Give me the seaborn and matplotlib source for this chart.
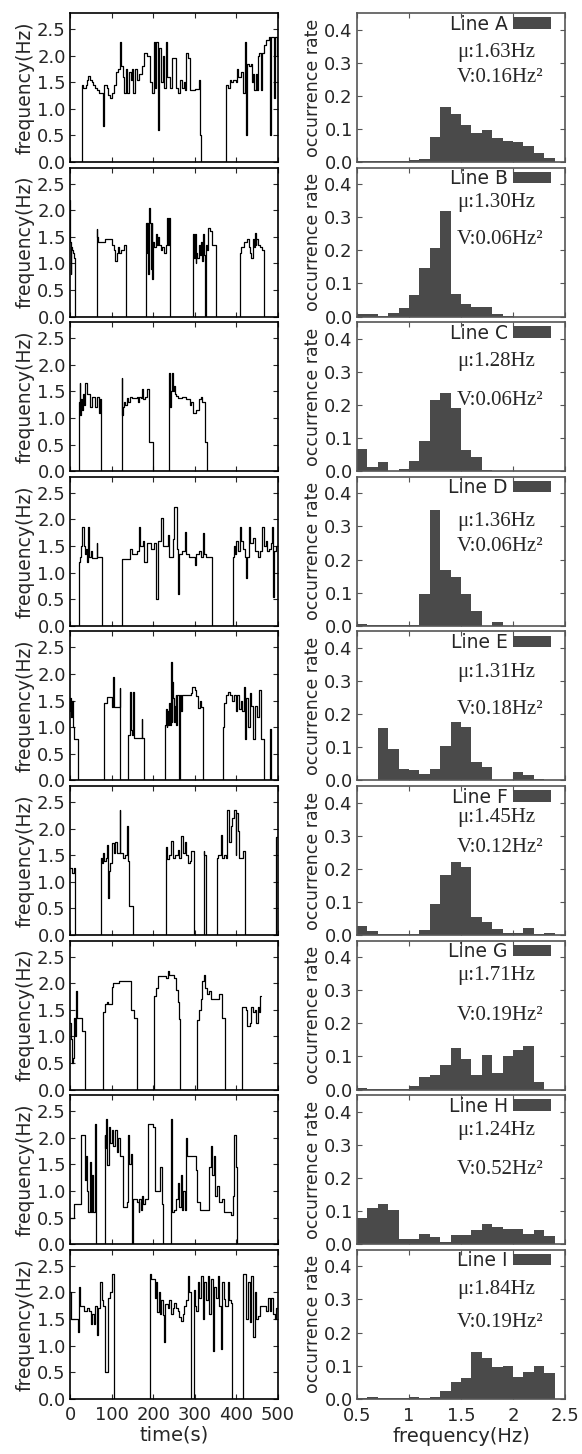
import numpy as np
import pandas as pd
import matplotlib
matplotlib.use("Agg")
import matplotlib.pyplot as plt
from matplotlib.patches import Patch
import seaborn as sns

# --------------------------------------------
# 1. DATA
# --------------------------------------------
line_names = ["Line A", "Line B", "Line C", "Line D", "Line E",
              "Line F", "Line G", "Line H", "Line I"]
mu_hz = [1.63, 1.30, 1.28, 1.36, 1.31, 1.45, 1.71, 1.24, 1.84]
var_hz2 = [0.16, 0.06, 0.06, 0.06, 0.18, 0.12, 0.19, 0.52, 0.19]

# (time s, frequency Hz) step breakpoints
line_a = [(0, 0), (28, 1.45), (32, 1.4), (38, 1.45), (40, 1.55), (44, 1.62), (48, 1.55), (52, 1.5),
          (56, 1.45), (60, 1.4), (64, 1.35), (70, 1.3), (79, 0.68), (81, 1.45), (88, 1.4), (92, 1.25),
          (95, 1.2), (100, 1.3), (105, 1.45), (110, 1.7), (115, 1.75), (120, 2.25), (122, 1.8),
          (127, 1.6), (130, 1.3), (134, 1.75), (137, 1.3), (142, 1.7), (146, 1.55), (150, 1.75),
          (152, 1.3), (156, 1.75), (160, 1.55), (165, 1.65), (172, 1.8), (179, 2.05), (186, 2.0),
          (193, 1.5), (197, 1.3), (201, 2.25), (204, 1.4), (207, 2.25), (211, 0.6), (214, 2.15),
          (219, 1.5), (223, 2.0), (227, 1.4), (231, 2.25), (234, 1.6), (240, 1.4), (246, 1.95),
          (256, 1.4), (260, 1.3), (265, 1.55), (270, 1.4), (273, 1.5), (276, 1.35), (280, 2.05),
          (284, 1.95), (288, 1.35), (300, 1.38), (310, 1.55), (312, 0.5), (316, 0), (376, 1.45),
          (380, 1.4), (384, 1.55), (388, 1.5), (393, 1.55), (398, 1.5), (401, 1.75), (405, 1.6),
          (410, 1.7), (416, 1.3), (420, 2.25), (423, 0.5), (426, 1.85), (430, 1.8), (434, 1.85),
          (437, 1.5), (440, 1.65), (443, 1.35), (446, 1.65), (449, 1.35), (452, 2.0), (455, 2.05),
          (458, 1.35), (461, 2.05), (466, 2.2), (472, 2.3), (478, 2.35), (481, 0.5), (484, 2.35),
          (490, 1.2), (493, 2.35), (497, 2.0), (500, 2.0)]
line_b = [(0, 2.2), (1, 1.4), (2, 0.8), (3, 1.3), (5, 1.25), (7, 1.2), (9, 1.1), (11, 0), (65, 1.65),
          (66, 1.5), (68, 1.4), (75, 1.4), (85, 1.45), (100, 1.35), (105, 1.25), (108, 1.05),
          (112, 1.2), (115, 1.3), (118, 1.2), (122, 1.25), (130, 1.35), (134, 0), (182, 0.8),
          (183, 1.75), (184, 1.2), (186, 1.75), (188, 0.8), (189, 2.05), (192, 1.75), (194, 0.9),
          (196, 1.75), (198, 0.7), (200, 1.4), (203, 1.3), (206, 1.55), (209, 1.35), (212, 1.5),
          (215, 1.35), (218, 1.25), (222, 1.3), (226, 1.2), (230, 1.35), (234, 1.85), (236, 1.35),
          (238, 1.85), (241, 0), (296, 1.55), (298, 1.1), (300, 1.55), (302, 1.0), (304, 1.2),
          (306, 1.1), (309, 1.35), (312, 1.15), (315, 1.4), (317, 1.05), (319, 1.55), (322, 1.15),
          (324, 0), (326, 1.35), (329, 1.25), (332, 1.67), (337, 1.6), (342, 1.35), (350, 0),
          (409, 1.2), (412, 1.3), (418, 1.4), (426, 1.45), (430, 1.3), (433, 1.2), (436, 1.1),
          (439, 1.45), (442, 1.3), (444, 1.57), (446, 1.35), (448, 1.45), (451, 1.35), (456, 1.3),
          (461, 1.25), (466, 0), (500, 0)]
line_c = [(0, 0), (21, 0.7), (22, 1.3), (23, 1.65), (25, 1.05), (27, 1.35), (29, 1.15), (31, 1.45),
          (34, 1.25), (37, 1.65), (40, 1.45), (44, 1.45), (48, 1.2), (52, 1.4), (56, 1.4), (60, 1.2),
          (64, 1.4), (68, 1.4), (70, 1.1), (72, 1.35), (75, 0), (124, 1.75), (126, 1.05), (128, 1.2),
          (130, 1.3), (133, 1.25), (136, 1.38), (140, 1.3), (144, 1.4), (150, 1.38), (160, 1.4),
          (163, 1.3), (166, 1.4), (170, 1.38), (174, 1.55), (176, 1.35), (180, 1.4), (186, 1.55),
          (189, 0.55), (200, 0), (238, 0.7), (239, 1.84), (240, 1.2), (242, 1.5), (244, 1.85),
          (247, 1.5), (250, 1.6), (253, 1.45), (256, 1.42), (260, 1.38), (270, 1.4), (280, 1.35),
          (288, 1.25), (292, 1.3), (296, 1.1), (302, 1.15), (310, 1.35), (315, 1.4), (318, 1.3),
          (325, 0.55), (330, 0), (500, 0)]
line_d = [(0, 0), (22, 1.2), (24, 1.3), (26, 1.5), (28, 1.6), (30, 1.85), (33, 1.5), (36, 1.35),
          (39, 1.45), (41, 1.2), (43, 1.85), (46, 1.3), (50, 1.4), (54, 1.28), (64, 1.55), (66, 1.3),
          (78, 0), (124, 1.25), (140, 1.25), (145, 1.45), (150, 1.35), (160, 1.4), (165, 1.85),
          (169, 1.5), (175, 1.6), (179, 1.2), (185, 1.55), (195, 1.45), (201, 1.55), (207, 0.5),
          (211, 1.6), (219, 2.03), (223, 1.5), (231, 1.5), (235, 1.7), (239, 1.3), (247, 1.64),
          (251, 2.24), (257, 1.45), (259, 0.6), (262, 1.35), (270, 1.4), (276, 1.76), (280, 1.35),
          (285, 1.3), (295, 1.3), (300, 1.15), (304, 1.35), (310, 1.4), (314, 1.3), (320, 1.75),
          (322, 1.35), (327, 1.3), (342, 0), (393, 1.3), (395, 1.5), (397, 1.35), (400, 1.6),
          (404, 1.4), (408, 1.85), (412, 1.6), (416, 1.45), (420, 1.3), (424, 0.9), (426, 1.3),
          (430, 1.85), (432, 1.55), (440, 1.65), (444, 1.4), (452, 1.3), (456, 1.4), (462, 1.85),
          (466, 1.5), (470, 1.6), (474, 1.4), (478, 1.45), (482, 1.55), (486, 1.85), (488, 0.55),
          (490, 1.4), (495, 1.5), (500, 1.45)]
line_e = [(0, 1.3), (1, 1.55), (3, 1.2), (5, 1.5), (7, 1.0), (9, 0.78), (14, 0.78), (20, 0),
          (81, 1.45), (88, 1.57), (100, 1.38), (104, 1.95), (106, 1.38), (118, 1.38), (119, 1.74),
          (120, 0), (139, 0.85), (145, 1.67), (146, 0.95), (148, 0.85), (152, 1.67), (154, 0.8),
          (172, 1.15), (174, 0.8), (177, 0), (228, 1.05), (230, 1.35), (232, 1.0), (234, 1.3),
          (236, 1.05), (238, 1.46), (240, 1.05), (242, 2.22), (244, 1.1), (246, 1.84), (248, 1.55),
          (250, 1.1), (252, 1.4), (254, 1.6), (256, 1.05), (258, 1.6), (263, 0), (265, 1.6),
          (268, 1.3), (270, 1.6), (290, 1.65), (294, 1.76), (300, 1.7), (304, 1.58), (308, 1.36),
          (312, 1.5), (315, 1.38), (319, 0), (368, 1.0), (371, 1.46), (376, 1.6), (380, 1.67),
          (385, 1.6), (390, 1.5), (394, 1.6), (398, 1.3), (402, 1.6), (406, 1.35), (410, 1.5),
          (414, 1.3), (418, 1.76), (420, 0.78), (424, 1.55), (428, 1.0), (432, 1.65), (436, 1.4),
          (440, 0.78), (445, 1.4), (450, 1.2), (455, 1.7), (458, 0.78), (466, 0), (480, 0.96),
          (482, 0), (500, 0)]
line_f = [(0, 1.25), (5, 1.17), (10, 1.25), (12, 0), (75, 1.45), (77, 1.35), (79, 1.55), (82, 1.4),
          (86, 1.45), (89, 1.7), (92, 0.7), (94, 1.2), (97, 1.35), (101, 1.72), (105, 1.55),
          (109, 1.75), (113, 1.55), (118, 1.55), (119, 2.35), (121, 1.55), (128, 1.45), (132, 1.5),
          (137, 2.05), (139, 1.4), (143, 0.55), (151, 0), (230, 1.66), (233, 1.43), (238, 1.5),
          (243, 1.76), (247, 1.45), (252, 1.51), (256, 1.5), (260, 1.6), (263, 1.45), (268, 1.86),
          (272, 1.55), (276, 1.75), (280, 1.5), (284, 1.36), (288, 1.4), (292, 1.58), (298, 0),
          (321, 1.57), (323, 1.5), (326, 0), (353, 1.45), (356, 1.5), (362, 1.87), (366, 1.45),
          (370, 1.5), (374, 1.45), (378, 2.35), (382, 1.75), (386, 2.05), (390, 2.2), (394, 2.35),
          (398, 1.5), (400, 2.3), (404, 1.95), (407, 1.45), (412, 1.45), (416, 1.58), (421, 0),
          (496, 1.85), (500, 1.85)]
line_g = [(0, 1.25), (2, 0.95), (4, 0.5), (8, 0.6), (10, 1.35), (12, 1.0), (15, 1.85), (17, 1.35),
          (30, 1.1), (36, 0), (79, 1.45), (84, 1.6), (88, 1.65), (92, 1.6), (100, 1.93), (104, 2.0),
          (118, 2.05), (146, 1.5), (155, 1.35), (161, 0), (203, 1.75), (207, 1.91), (211, 2.13),
          (230, 2.1), (235, 2.22), (238, 2.15), (251, 2.1), (255, 1.88), (259, 1.65), (263, 1.32),
          (265, 0), (306, 1.3), (310, 1.5), (314, 1.7), (318, 2.05), (321, 2.15), (325, 1.9),
          (330, 1.8), (334, 1.85), (338, 1.7), (358, 1.8), (366, 1.35), (372, 0), (414, 1.55),
          (422, 1.5), (426, 1.2), (432, 1.25), (436, 1.55), (440, 1.45), (445, 1.5), (448, 1.25),
          (451, 1.55), (454, 1.45), (456, 1.75), (458, 1.75), (459, np.nan)]
line_h = [(0, 0.5), (9, 0.75), (26, 2.05), (36, 1.2), (38, 1.65), (41, 1.0), (43, 0.6), (46, 0.6),
          (48, 1.55), (50, 0.6), (53, 1.3), (56, 0.6), (59, 2.25), (62, 0), (83, 2.05), (85, 1.8),
          (87, 2.35), (90, 1.48), (94, 2.2), (97, 1.9), (100, 2.14), (104, 1.85), (108, 2.15),
          (112, 1.73), (116, 2.0), (120, 1.66), (127, 0.7), (137, 0.8), (140, 2.05), (143, 1.5),
          (146, 1.7), (149, 0), (151, 0.85), (160, 0.8), (165, 0.6), (167, 0.85), (170, 0.65),
          (173, 0.9), (176, 0.75), (180, 0.85), (188, 2.25), (200, 2.2), (205, 1.0), (214, 1.0),
          (216, 1.45), (220, 0.75), (223, 0), (242, 2.35), (244, 0.6), (250, 0.65), (255, 0.85),
          (260, 1.15), (263, 0.7), (266, 1.3), (269, 0.65), (272, 1.0), (276, 0.65), (279, 2.0),
          (282, 1.65), (300, 1.65), (303, 1.4), (306, 0.8), (312, 0.65), (330, 0.65), (335, 1.45),
          (338, 1.85), (341, 1.3), (345, 1.65), (349, 0.9), (353, 1.1), (357, 0.8), (366, 0.85),
          (370, 0.6), (388, 0.55), (391, 0.9), (395, 2.05), (398, 1.45), (401, 0), (500, 0)]
line_i = [(0, 2.0), (2, 1.5), (20, 1.25), (22, 2.1), (25, 1.75), (34, 1.65), (42, 1.7), (46, 1.65),
          (50, 1.4), (53, 1.6), (57, 1.4), (61, 1.75), (65, 1.2), (67, 1.7), (72, 2.2), (76, 1.85),
          (80, 1.75), (83, 0.5), (89, 0.5), (91, 1.9), (96, 2.0), (100, 2.35), (106, 0), (192, 2.35),
          (195, 2.25), (204, 1.9), (206, 2.2), (210, 1.63), (213, 2.0), (216, 1.6), (219, 1.85),
          (223, 1.58), (227, 1.06), (229, 1.79), (235, 1.7), (239, 1.85), (243, 1.6), (247, 1.7),
          (251, 1.8), (255, 1.7), (259, 1.65), (263, 1.54), (267, 1.47), (271, 1.6), (275, 1.75),
          (279, 1.85), (283, 2.3), (287, 2.0), (291, 0), (297, 2.04), (300, 1.75), (303, 1.65),
          (307, 2.2), (311, 1.9), (315, 2.3), (319, 1.5), (323, 2.2), (327, 1.85), (331, 2.3),
          (335, 1.6), (339, 2.25), (343, 0.9), (346, 2.1), (351, 1.9), (355, 2.3), (359, 1.75),
          (363, 0.94), (366, 2.2), (370, 1.87), (373, 1.75), (379, 2.2), (383, 1.85), (387, 1.8),
          (390, 0), (417, 2.35), (424, 1.5), (428, 2.2), (432, 1.44), (436, 2.3), (440, 1.16),
          (444, 2.0), (448, 1.5), (452, 1.55), (456, 1.75), (468, 1.75), (472, 1.65), (476, 1.9),
          (480, 1.65), (484, 1.9), (488, 1.6), (492, 1.5), (496, 1.7), (500, 1.65)]
series = [line_a, line_b, line_c, line_d, line_e, line_f, line_g, line_h, line_i]

# histogram: left edges of the 0.1 Hz bins and occurrence rates
bin_left = [0.5, 0.6, 0.7, 0.8, 0.9, 1.0, 1.1, 1.2, 1.3, 1.4,
            1.5, 1.6, 1.7, 1.8, 1.9, 2.0, 2.1, 2.2, 2.3, 2.4]
hist_a = [0.004, 0.003, 0.003, 0.004, 0.003, 0.005, 0.01, 0.074, 0.167, 0.145,
          0.112, 0.089, 0.097, 0.072, 0.062, 0.059, 0.049, 0.027, 0.012, 0.0]
hist_b = [0.008, 0.008, 0.003, 0.01, 0.027, 0.066, 0.147, 0.206, 0.318, 0.069,
          0.038, 0.028, 0.028, 0.008, 0.003, 0.0, 0.0, 0.0, 0.0, 0.0]
hist_c = [0.067, 0.012, 0.027, 0.002, 0.008, 0.032, 0.09, 0.215, 0.235, 0.192,
          0.065, 0.042, 0.003, 0.0, 0.0, 0.0, 0.0, 0.0, 0.0, 0.0]
hist_d = [0.005, 0.002, 0.002, 0.002, 0.002, 0.002, 0.097, 0.35, 0.17, 0.148,
          0.097, 0.046, 0.0, 0.01, 0.0, 0.0, 0.0, 0.0, 0.0, 0.0]
hist_e = [0.0, 0.0, 0.158, 0.095, 0.035, 0.03, 0.018, 0.035, 0.105, 0.175,
          0.16, 0.055, 0.04, 0.0, 0.0, 0.025, 0.015, 0.005, 0.0, 0.0]
hist_f = [0.028, 0.012, 0.003, 0.003, 0.003, 0.003, 0.014, 0.094, 0.18, 0.22,
          0.205, 0.055, 0.038, 0.017, 0.007, 0.007, 0.022, 0.002, 0.007, 0.0]
hist_g = [0.005, 0.003, 0.001, 0.001, 0.001, 0.01, 0.038, 0.045, 0.073, 0.127,
          0.093, 0.043, 0.103, 0.05, 0.1, 0.12, 0.132, 0.022, 0.0, 0.0]
hist_h = [0.08, 0.11, 0.12, 0.104, 0.015, 0.015, 0.03, 0.022, 0.008, 0.028,
          0.028, 0.043, 0.06, 0.053, 0.047, 0.047, 0.03, 0.042, 0.025, 0.0]
hist_i = [0.002, 0.005, 0.002, 0.002, 0.002, 0.004, 0.002, 0.004, 0.025, 0.05,
          0.063, 0.14, 0.123, 0.095, 0.1, 0.067, 0.08, 0.1, 0.077, 0.0]
hists = [hist_a, hist_b, hist_c, hist_d, hist_e, hist_f, hist_g, hist_h, hist_i]

# vertical placement of the mu / V annotations (data units)
mu_text_y = [0.331, 0.345, 0.331, 0.314, 0.327, 0.354, 0.345, 0.342, 0.33]
v_text_y = [0.256, 0.233, 0.215, 0.24, 0.215, 0.263, 0.223, 0.227, 0.23]

# --------------------------------------------
# 2. STYLE
# --------------------------------------------
sns.set_theme(style="ticks")
plt.rcParams["font.family"] = ["DejaVu Sans"]
plt.rcParams.update({
    "xtick.direction": "in", "ytick.direction": "in",
    "xtick.top": True, "ytick.right": True,
    "xtick.major.size": 3.5, "ytick.major.size": 3.5,
    "xtick.major.width": 0.8, "ytick.major.width": 0.8,
    "xtick.labelsize": 13, "ytick.labelsize": 13,
})
bar_color = "#4a4a4a"
serif = ["Liberation Serif", "DejaVu Serif"]

W, H = 582, 1454
fig = plt.figure(figsize=(W / 100, H / 100), dpi=100)

# --------------------------------------------
# 3. PANELS
# --------------------------------------------
for i, name in enumerate(line_names):
    top = 13 + i * 154.6
    y0 = 1 - (top + 149) / H
    axl = fig.add_axes([70 / W, y0, 208 / W, 149 / H])
    axr = fig.add_axes([357 / W, y0, 208 / W, 149 / H])

    # time series
    df = pd.DataFrame(series[i], columns=["time", "freq"])
    sns.lineplot(data=df, x="time", y="freq", ax=axl, estimator=None, sort=False,
                 drawstyle="steps-post", color="black", linewidth=0.9)
    axl.set_xlim(0, 500)
    axl.set_ylim(0, 2.8)
    axl.set_xticks([0, 100, 200, 300, 400, 500])
    axl.set_yticks([0, 0.5, 1.0, 1.5, 2.0, 2.5])
    axl.set_yticklabels(["0.0", "0.5", "1.0", "1.5", "2.0", "2.5"])
    axl.set_ylabel("frequency(Hz)", fontsize=13.5, labelpad=2)
    axl.tick_params(axis="y", pad=3)
    axl.tick_params(axis="x", pad=5)
    for s in axl.spines.values():
        s.set_color("black")
        s.set_linewidth(1.2)

    # histogram
    hdf = pd.DataFrame({"freq": np.array(bin_left) + 0.05, "rate": hists[i]})
    sns.histplot(data=hdf, x="freq", weights="rate", binwidth=0.1, binrange=(0.5, 2.5),
                 ax=axr, color=bar_color, edgecolor="none", linewidth=0, alpha=1)
    axr.set_xlim(0.5, 2.5)
    axr.set_ylim(0, 0.45)
    axr.set_xticks([0.5, 1.0, 1.5, 2.0, 2.5])
    axr.set_yticks([0, 0.1, 0.2, 0.3, 0.4])
    axr.set_yticklabels(["0.0", "0.1", "0.2", "0.3", "0.4"])
    axr.set_ylabel("occurrence rate", fontsize=12.5, labelpad=2)
    axr.tick_params(axis="y", pad=3, color="#555555")
    axr.tick_params(axis="x", pad=6, color="#555555")
    for s in axr.spines.values():
        s.set_color("#555555")
        s.set_linewidth(1.2)

    axr.legend(handles=[Patch(facecolor=bar_color, edgecolor="none", label=name)],
               loc="upper right", bbox_to_anchor=(0.95, 1.015), frameon=False,
               markerfirst=False, handlelength=2.0, handleheight=0.55,
               handletextpad=0.3, borderaxespad=0, borderpad=0.2, fontsize=13.5)
    axr.text(0.48, mu_text_y[i], f"\u03bc:{mu_hz[i]:.2f}Hz", transform=axr.get_yaxis_transform(),
             family=serif, fontsize=15, ha="left", va="center")
    axr.text(0.48, v_text_y[i], f"V:{var_hz2[i]:.2f}Hz\u00b2", transform=axr.get_yaxis_transform(),
             family=serif, fontsize=15, ha="left", va="center")

    if i < len(line_names) - 1:
        axl.set_xticklabels([])
        axr.set_xticklabels([])
        axl.set_xlabel("")
        axr.set_xlabel("")
    else:
        axl.set_xticklabels(["0", "100", "200", "300", "400", "500"])
        axr.set_xticklabels(["0.5", "1", "1.5", "2", "2.5"])
        axl.set_xlabel("time(s)", fontsize=14, labelpad=1)
        axr.set_xlabel("frequency(Hz)", fontsize=14, labelpad=1)

fig.savefig("out.png", dpi=100)
